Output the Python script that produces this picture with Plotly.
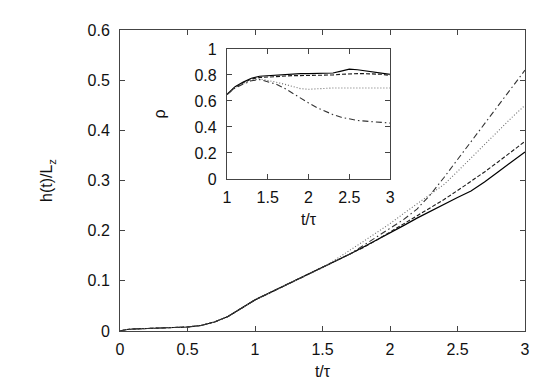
import plotly.graph_objects as go

# ---- main panel data: h(t)/L_z vs t/tau ----
t_common = [0.0, 0.05, 0.1, 0.2, 0.3, 0.4, 0.5, 0.6, 0.7, 0.8, 0.9, 1.0, 1.1, 1.2, 1.3, 1.4, 1.5]
h_common = [0.0, 0.003, 0.004, 0.005, 0.006, 0.007, 0.008, 0.011, 0.018, 0.029, 0.045, 0.062, 0.075, 0.088, 0.100, 0.113, 0.126]

t_late = [1.6, 1.7, 1.8, 1.9, 2.0, 2.1, 2.2, 2.3, 2.4, 2.5, 2.6, 2.7, 2.8, 2.9, 3.0]
h_solid = [0.139, 0.153, 0.167, 0.181, 0.196, 0.210, 0.225, 0.239, 0.253, 0.266, 0.279, 0.297, 0.317, 0.337, 0.357]
h_dashed = [0.139, 0.152, 0.166, 0.181, 0.197, 0.213, 0.229, 0.245, 0.262, 0.280, 0.298, 0.317, 0.337, 0.357, 0.378]
h_dotted = [0.143, 0.160, 0.178, 0.196, 0.214, 0.234, 0.253, 0.273, 0.292, 0.318, 0.345, 0.372, 0.399, 0.425, 0.450]
h_dashdot = [0.139, 0.153, 0.170, 0.187, 0.205, 0.222, 0.243, 0.272, 0.306, 0.342, 0.377, 0.413, 0.448, 0.484, 0.520]

# ---- inset data: rho vs t/tau ----
t_in = [1.0, 1.1, 1.2, 1.3, 1.4, 1.5, 1.6, 1.7, 1.8, 1.9, 2.0, 2.1, 2.2, 2.3, 2.4, 2.5, 2.6, 2.7, 2.8, 2.9, 3.0]
rho_solid = [0.65, 0.71, 0.745, 0.775, 0.79, 0.795, 0.80, 0.805, 0.805, 0.81, 0.81, 0.81, 0.815, 0.815, 0.83, 0.845, 0.84, 0.83, 0.82, 0.815, 0.805]
rho_dashed = [0.65, 0.705, 0.74, 0.77, 0.78, 0.785, 0.79, 0.79, 0.795, 0.795, 0.795, 0.80, 0.80, 0.80, 0.805, 0.81, 0.81, 0.81, 0.81, 0.805, 0.795]
rho_dotted = [0.65, 0.705, 0.735, 0.76, 0.77, 0.76, 0.745, 0.73, 0.71, 0.695, 0.69, 0.695, 0.70, 0.70, 0.70, 0.70, 0.70, 0.70, 0.705, 0.705, 0.70]
rho_dashdot = [0.65, 0.70, 0.73, 0.755, 0.765, 0.75, 0.73, 0.70, 0.66, 0.62, 0.585, 0.55, 0.52, 0.495, 0.475, 0.46, 0.45, 0.445, 0.44, 0.435, 0.43]

x_ticks_main = [0, 0.5, 1, 1.5, 2, 2.5, 3]
y_ticks_main = [0, 0.1, 0.2, 0.3, 0.4, 0.5, 0.6]
x_ticks_in = [1, 1.5, 2, 2.5, 3]
y_ticks_in = [0, 0.2, 0.4, 0.6, 0.8, 1]

styles = [
    ("solid", "#000000", 1.2),
    ("4px,2px", "#1a1a1a", 1.1),
    ("1px,2px", "#6e6e6e", 1.1),
    ("6px,3px,1.5px,3px", "#333333", 1.1),
]

fig = go.Figure()
main_series = [h_solid, h_dashed, h_dotted, h_dashdot]
for (dash, col, w), h in zip(styles, main_series):
    fig.add_trace(go.Scatter(x=t_common + t_late, y=h_common + h,
                             mode="lines", line=dict(color=col, width=w, dash=dash),
                             xaxis="x", yaxis="y", showlegend=False))

inset_series = [rho_solid, rho_dashed, rho_dotted, rho_dashdot]
for (dash, col, w), r in zip(styles, inset_series):
    fig.add_trace(go.Scatter(x=t_in, y=r, mode="lines",
                             line=dict(color=col, width=w, dash=dash),
                             xaxis="x2", yaxis="y2", showlegend=False))

font = dict(family="Liberation Sans, Arial, sans-serif", size=16, color="#111")
axis_common = dict(showgrid=False, zeroline=False, showline=True, linecolor="#444",
                   linewidth=1, mirror="ticks", ticks="inside", ticklen=5,
                   tickcolor="#444", tickfont=font)

fig.update_layout(
    width=545, height=382,
    margin=dict(l=112, r=28, t=22, b=59),
    paper_bgcolor="white", plot_bgcolor="white",
    font=font,
    xaxis=dict(range=[0, 3], tickvals=x_ticks_main, domain=[0, 1],
               title=dict(text="t/τ", font=font, standoff=8), ticklabelstandoff=4,
               **axis_common),
    yaxis=dict(range=[0, 0.6], tickvals=y_ticks_main, domain=[0, 1],
               title=dict(text="h(t)/L<sub>z</sub>", font=font, standoff=30),
               ticklabelstandoff=6, **axis_common),
    xaxis2=dict(range=[1, 3], tickvals=x_ticks_in, domain=[0.264, 0.667], anchor="y2",
                title=dict(text="t/τ", font=font, standoff=8), ticklabelstandoff=4,
                **axis_common),
    yaxis2=dict(range=[0, 1], tickvals=y_ticks_in, domain=[0.505, 0.937], anchor="x2",
                title=dict(text="ρ", font=font, standoff=24), ticklabelstandoff=6,
                **axis_common),
)

fig.write_html("out.html")
